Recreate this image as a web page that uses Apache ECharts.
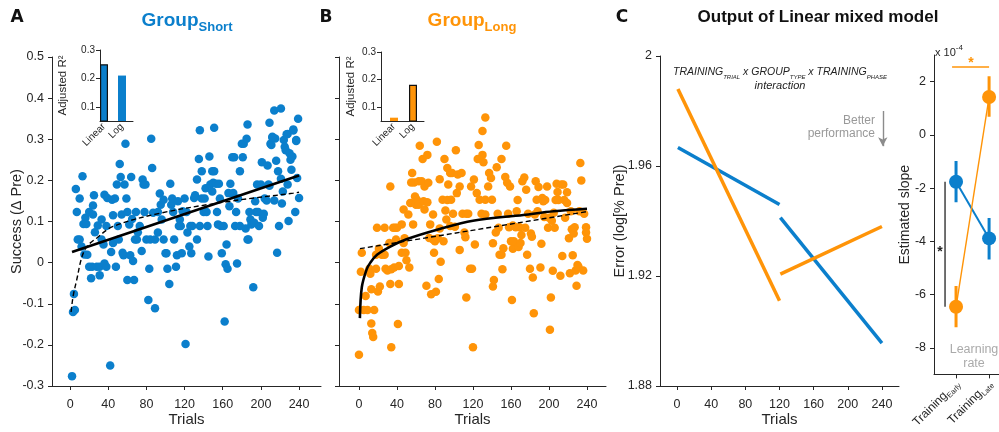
<!DOCTYPE html>
<html style="height:100%;">
<head>
	<meta charset="utf-8" />
	<title>Group short / long - linear mixed model</title>
	<script type="text/javascript" src="https://cdn.jsdelivr.net/npm/echarts@6/dist/echarts.min.js"></script>
</head>
<body style="margin:0;padding:0;height:100%;background:#fff;">
	<div id="chart" style="width:999px;height:432px;"></div>

	<script type="text/javascript">
		const FONT = '"Liberation Sans", Arial, sans-serif';
		const INK = '#262626';
		const BLUE = '#0b7fcc';
		const ORANGE = '#ff9408';

		// tick labels
		const trialTicks = [0, 40, 80, 120, 160, 200, 240];
		const successTicks = [-0.3, -0.2, -0.1, 0, 0.1, 0.2, 0.3, 0.4, 0.5];
		const errorTicks = [1.88, 1.92, 1.96, 2];
		const slopeTicks = [-8, -6, -4, -2, 0, 2];
		const r2Ticks = [0.1, 0.2, 0.3];

		// inset bars: adjusted R2 of each fit
		const fitModels = ['Linear', 'Log'];
		const r2Short = [0.25, 0.21];
		const r2Long = [0.062, 0.181];

		// Group short: [trial, success]
		const shortPoints = [
			[2, -0.276], [3, -0.12], [4, -0.076], [5, -0.115], [6, 0.179], [7, 0.123], [10, 0.156], [8, 0.056], [10, 0.056], [13, 0.21],
			[12, 0.039], [14, 0.094], [16, 0.109], [17, 0.094], [15, 0.02], [18, 0.019], [20, 0.123], [20, -0.01], [22, -0.038], [23, -0.01],
			[24, 0.139], [24, 0.117], [25, 0.164], [26, 0.074], [28, -0.01], [29, 0.09], [31, -0.031], [31, -0.01], [33, 0.105], [33, 0.056],
			[35, 0.044], [36, 0.165], [36, -0.002], [38, 0.089], [38, -0.01], [39, 0.157], [42, -0.25], [43, 0.026], [44, 0.153], [45, 0.115],
			[45, 0.048], [47, 0.156], [48, -0.01], [49, 0.19], [50, 0.089], [51, 0.056], [52, 0.24], [53, 0.208], [54, 0.117], [55, 0.024],
			[56, 0.018], [57, 0.19], [58, 0.289], [59, 0.156], [60, 0.123], [60, -0.042], [62, 0.093], [63, 0.018], [64, 0.208], [65, 0.106],
			[66, 0.004], [67, -0.042], [68, 0.056], [69, 0.123], [70, 0.056], [71, 0.074], [73, 0.089], [75, 0.028], [76, 0.202], [77, 0.19],
			[79, 0.19], [78, 0.123], [80, 0.056], [82, -0.091], [83, -0.015], [84, 0.056], [85, 0.301], [86, 0.23], [87, 0.121], [89, -0.111],
			[89, 0.056], [92, 0.123], [92, 0.073], [94, 0.168], [95, 0.141], [96, 0.105], [98, 0.153], [98, 0.056], [100, 0.023], [101, 0.023],
			[102, -0.015], [104, -0.052], [105, 0.192], [106, 0.141], [107, 0.156], [108, 0.123], [109, 0.056], [111, -0.01], [112, 0.018], [113, 0.149],
			[114, 0.089], [115, 0.105], [116, 0.089], [117, 0.023], [118, 0.125], [120, 0.156], [121, -0.198], [122, 0.123], [123, 0.073], [125, 0.039],
			[126, 0.089], [127, 0.023], [128, 0.089], [130, 0.157], [131, 0.164], [133, 0.056], [133, 0.202], [135, 0.252], [136, 0.089], [138, 0.222],
			[138, 0.156], [140, 0.123], [141, 0.156], [142, 0.181], [143, 0.123], [144, 0.089], [145, 0.015], [146, 0.258], [147, 0.19], [149, 0.222],
			[149, 0.173], [150, 0.194], [151, 0.222], [153, 0.192], [154, 0.123], [155, 0.093], [156, 0.192], [157, 0.156], [158, 0.089], [159, 0.023],
			[161, 0.089], [162, -0.143], [163, -0.004], [164, 0.044], [165, -0.015], [166, 0.169], [167, 0.137], [168, 0.192], [170, 0.256], [171, 0.169],
			[172, 0.256], [173, 0.089], [174, 0.123], [175, -0.002], [176, 0.156], [178, 0.089], [178, 0.222], [180, 0.289], [181, 0.256], [182, 0.289],
			[184, 0.083], [185, 0.301], [186, 0.056], [187, 0.056], [188, 0.123], [189, 0.105], [190, 0.093], [192, -0.06], [193, 0.097], [194, 0.149],
			[195, 0.123], [196, 0.19], [197, 0.123], [198, 0.089], [200, 0.19], [201, 0.244], [202, 0.109], [203, 0.119], [204, 0.156], [206, 0.151],
			[207, 0.236], [208, 0.19], [209, 0.187], [210, 0.289], [211, 0.286], [212, 0.306], [214, 0.151], [215, 0.302], [216, 0.248], [217, 0.024],
			[218, 0.222], [219, 0.089], [221, 0.204], [222, 0.144], [223, 0.173], [224, 0.298], [225, 0.282], [226, 0.273], [228, 0.313], [228, 0.19],
			[229, 0.101], [230, 0.266], [231, 0.25], [232, 0.226], [233, 0.258], [234, 0.321], [236, 0.123], [237, 0.298], [238, 0.206], [240, 0.157],
			[136, 0.322], [151, 0.328], [186, 0.336], [209, 0.34], [214, 0.37], [221, 0.375], [239, 0.35], [234, 0.324], [237, 0.296], [227, 0.312],
			[212, 0.304]
		];
		const shortLinearFit = [[2, 0.026], [240, 0.212]];
		const shortLogFit = [[1, -0.12], [2, -0.1], [3.5, -0.077], [7, -0.041], [12, 0.011], [17.5, 0.039], [28, 0.06], [45, 0.088],
			[94, 0.12], [164, 0.148], [234, 0.169], [240, 0.171]];

		// Group long: [trial, success]
		const longPoints = [
			[0, -0.224], [0, -0.115], [2, -0.022], [3, 0.024], [5, -0.115], [7, -0.081], [9, -0.115], [11, -0.015], [12, -0.027], [13, -0.065],
			[13, -0.148], [14, -0.171], [15, -0.181], [16, -0.115], [18, -0.015], [18, 0.019], [19, 0.085], [20, -0.07], [21, 0.034], [22, -0.058],
			[24, 0.019], [25, 0.02], [27, 0.085], [27, 0.019], [28, -0.015], [30, -0.019], [32, 0.048], [33, 0.185], [33, -0.052], [34, -0.016],
			[34, -0.206], [36, 0.085], [37, -0.012], [38, 0.085], [39, 0.056], [40, 0.085], [41, -0.149], [42, -0.052], [42, -0.008], [45, 0.093],
			[45, 0.024], [47, 0.129], [47, 0.048], [48, 0.059], [49, 0.024], [50, 0.006], [52, 0.117], [53, -0.012], [54, 0.145], [55, 0.195],
			[56, 0.218], [57, 0.093], [58, 0.195], [59, 0.161], [60, 0.141], [61, 0.153], [63, 0.198], [63, 0.141], [64, 0.284], [66, 0.198],
			[67, 0.252], [68, 0.149], [69, 0.185], [69, 0.129], [71, -0.056], [72, 0.262], [72, 0.147], [73, 0.194], [74, 0.06], [75, 0.093],
			[76, -0.077], [78, 0.056], [78, 0.117], [79, 0.024], [80, 0.052], [81, -0.071], [82, 0.294], [83, 0.059], [84, -0.04], [85, 0.203],
			[85, 0.083], [86, 0.002], [88, 0.153], [89, 0.052], [90, 0.252], [91, 0.127], [92, 0.105], [93, 0.152], [93, 0.23], [94, 0.19],
			[96, 0.218], [96, 0.089], [97, 0.153], [98, 0.218], [99, 0.119], [101, 0.087], [102, 0.273], [103, 0.169], [104, 0.214], [106, 0.185],
			[106, 0.031], [108, 0.218], [109, 0.119], [111, 0.073], [112, 0.062], [113, -0.085], [113, 0.119], [115, 0.119], [117, -0.015], [118, 0.185],
			[119, -0.015], [120, -0.206], [121, 0.202], [122, 0.044], [124, 0.169], [125, 0.252], [126, 0.286], [127, 0.153], [129, 0.119], [130, 0.32],
			[130, 0.262], [131, 0.244], [133, 0.117], [133, 0.153], [133, 0.353], [136, 0.185], [137, 0.218], [139, 0.206], [140, 0.153], [141, 0.047],
			[141, -0.058], [142, -0.042], [144, 0.073], [145, 0.232], [146, 0.119], [147, 0.085], [148, 0.019], [150, 0.019], [150, 0.252], [151, -0.016],
			[152, 0.035], [154, 0.208], [155, 0.284], [156, 0.194], [157, 0.119], [158, 0.086], [159, 0.185], [160, 0.052], [161, -0.091], [162, 0.034],
			[162, 0.09], [163, 0.052], [165, 0.086], [166, 0.125], [167, 0.152], [168, 0.038], [169, 0.086], [170, 0.048], [171, 0.067], [172, 0.198],
			[174, 0.207], [175, 0.085], [176, 0.177], [177, 0.019], [178, 0.119], [180, -0.015], [181, 0.071], [182, 0.063], [183, -0.036], [184, -0.123],
			[185, 0.117], [186, 0.198], [187, 0.153], [188, 0.125], [189, 0.184], [191, -0.012], [192, 0.046], [193, 0.157], [194, 0.149], [195, 0.111],
			[196, 0.152], [198, 0.185], [199, 0.085], [200, 0.109], [201, -0.163], [202, -0.085], [203, 0.102], [204, -0.02], [205, 0.121], [206, 0.085],
			[207, 0.152], [208, 0.192], [209, 0.172], [210, 0.152], [212, -0.032], [213, 0.19], [214, 0.016], [215, 0.19], [216, 0.152], [217, 0.109],
			[219, 0.145], [219, 0.171], [221, 0.059], [222, -0.026], [223, 0.125], [224, 0.081], [225, 0.018], [226, 0.071], [227, 0.086], [228, -0.019],
			[229, -0.056], [230, -0.006], [231, -0.01], [232, 0.125], [233, 0.242], [234, 0.2], [236, -0.019], [237, 0.119], [239, 0.086], [239, 0.073],
			[240, 0.058]
		];
		const longLogFit = [[1, -0.135], [3, -0.06], [8, -0.017], [12, 0.0], [19, 0.019], [33, 0.039], [50, 0.057], [85, 0.082],
			[120, 0.102], [173, 0.116], [205, 0.125], [240, 0.131]];
		const longLinearFit = [[1, 0.034], [240, 0.124]];

		// linear mixed model: error per phase segment
		const lmmShort = [[[1, 1.9667], [120, 1.946]], [[121, 1.9412], [240, 1.8956]]];
		const lmmLong = [[[1, 1.988], [120, 1.911]], [[121, 1.9207], [240, 1.938]]];

		// estimated slopes (x 10^-4) with error bars
		const phaseNames = ['Early', 'Late'];
		const slopeShort = [-1.76, -3.89];
		const slopeShortLow = [-2.53, -4.68];
		const slopeShortHigh = [-0.98, -3.12];
		const slopeLong = [-6.46, 1.42];
		const slopeLongLow = [-7.23, 0.68];
		const slopeLongHigh = [-5.68, 2.2];

		function valueAxis(gridIndex, min, max, ticks, showLabel) {
			return {
				type: 'value', gridIndex: gridIndex, min: min, max: max,
				splitLine: { show: false },
				axisLine: { show: true, onZero: false, lineStyle: { color: INK, width: 1 } },
				axisTick: { show: !!ticks, length: 4, customValues: ticks, lineStyle: { color: INK } },
				axisLabel: {
					show: !!ticks && showLabel !== false, customValues: ticks,
					color: INK, fontFamily: FONT, fontSize: 12.5, margin: 8
				}
			};
		}
		function named(axis, name, gap, size) {
			return Object.assign(axis, {
				name: name, nameLocation: 'middle', nameGap: gap, nameMoveOverlap: false,
				nameTextStyle: { color: INK, fontFamily: FONT, fontSize: size }
			});
		}

		const chart = echarts.init(document.getElementById('chart'));

		const grids = [
			{ left: 52, top: 57, width: 269, height: 330 },   // A
			{ left: 339, top: 57, width: 267, height: 330 },  // B
			{ left: 660, top: 56, width: 239, height: 330 },  // C
			{ left: 934, top: 55, width: 65, height: 332 },   // slopes
			{ left: 100, top: 50, width: 33, height: 71 },    // inset A
			{ left: 381, top: 52, width: 43, height: 69 }     // inset B
		];

		const xAxes = [
			named(valueAxis(0, -19, 263, trialTicks), 'Trials', 26, 15),
			named(valueAxis(1, -21, 260, trialTicks), 'Trials', 26, 15),
			named(valueAxis(2, -20, 260, trialTicks), 'Trials', 26, 15),
			valueAxis(3, 0.333, 2.3, [1, 2]),
			valueAxis(4, 0.778, 2.611, [1, 2]),
			valueAxis(5, 0.316, 2.579, [1, 2])
		];
		[0, 1, 2].forEach(function (i) { xAxes[i].axisLabel.margin = 12; });
		xAxes[3].axisLabel.rotate = 45;
		xAxes[3].axisLabel.margin = 6;
		xAxes[3].axisLabel.formatter = function (v) { return '{m|Training}{s|' + phaseNames[Math.round(v) - 1] + '}'; };
		xAxes[3].axisLabel.rich = {
			m: { fontSize: 12, color: INK, fontFamily: FONT, lineHeight: 16, verticalAlign: 'bottom' },
			s: { fontSize: 7.5, color: INK, fontFamily: FONT, lineHeight: 16, verticalAlign: 'bottom', padding: [0, 0, -2, 0] }
		};
		[4, 5].forEach(function (i) {
			xAxes[i].axisTick.show = false;
			xAxes[i].axisLabel.rotate = 45;
			xAxes[i].axisLabel.fontSize = 10;
			xAxes[i].axisLabel.margin = 4;
			xAxes[i].axisLabel.formatter = function (v) { return fitModels[Math.round(v) - 1]; };
		});

		const yAxes = [
			named(valueAxis(0, -0.3, 0.5, successTicks), 'Success (\u0394 Pre)', 28, 14.5),
			valueAxis(1, -0.3, 0.5, successTicks, false),
			named(valueAxis(2, 1.88, 2.0, errorTicks), 'Error (log[% Pre])', 33, 14.5),
			named(valueAxis(3, -9, 3, slopeTicks), 'Estimated slope', 22, 14),
			named(valueAxis(4, 0.05, 0.3, r2Ticks), 'Adjusted R\u00b2', 31, 11.5),
			named(valueAxis(5, 0.05, 0.3, r2Ticks), 'Adjusted R\u00b2', 24, 11.5)
		];
		[4, 5].forEach(function (i) {
			yAxes[i].axisLabel.fontSize = 10;
			yAxes[i].axisLabel.margin = 5;
		});

		function fitLine(xi, data, dashed, color) {
			return {
				type: 'line', xAxisIndex: xi, yAxisIndex: xi, data: data, smooth: data.length > 2 ? 0.35 : false,
				symbol: 'none', silent: true, z: 4,
				lineStyle: { color: color || '#000', width: dashed ? 1.4 : 2.6, type: dashed ? [5, 3] : 'solid' }
			};
		}
		function scatter(xi, data, color) {
			return {
				type: 'scatter', xAxisIndex: xi, yAxisIndex: xi, data: data, symbolSize: 8.5,
				itemStyle: { color: color, opacity: 1 }, z: 2
			};
		}
		function r2Bars(xi, values, color) {
			const best = values.indexOf(Math.max.apply(null, values));
			return {
				type: 'bar', xAxisIndex: xi, yAxisIndex: xi, barWidth: 8,
				data: values.map(function (v, i) {
					return {
						value: [i + 1, v],
						itemStyle: { color: color, borderColor: i === best ? '#111' : color, borderWidth: i === best ? 1.2 : 0 }
					};
				})
			};
		}

		const series = [
			scatter(0, shortPoints, BLUE),
			fitLine(0, shortLinearFit, false),
			fitLine(0, shortLogFit, true),
			scatter(1, longPoints, ORANGE),
			fitLine(1, longLogFit, false),
			fitLine(1, longLinearFit, true),
			r2Bars(4, r2Short, BLUE),
			r2Bars(5, r2Long, ORANGE)
		];

		// C: mixed model lines
		lmmShort.forEach(function (seg) {
			series.push({ type: 'line', xAxisIndex: 2, yAxisIndex: 2, data: seg, symbol: 'none', lineStyle: { color: BLUE, width: 3.5 } });
		});
		lmmLong.forEach(function (seg) {
			series.push({ type: 'line', xAxisIndex: 2, yAxisIndex: 2, data: seg, symbol: 'none', lineStyle: { color: ORANGE, width: 3.5 } });
		});
		// arrow "better performance"
		series.push({
			type: 'line', xAxisIndex: 2, yAxisIndex: 2, data: [], symbol: 'none',
			markLine: {
				silent: true, symbol: ['none', 'arrow'], symbolSize: [7, 9], label: { show: false },
				lineStyle: { color: '#8c8c8c', width: 1.4, type: 'solid' },
				data: [[{ coord: [241, 1.98] }, { coord: [241, 1.9672] }]]
			}
		});

		// slopes
		const phaseX = phaseNames.map(function (p, i) { return i + 1; });
		function slopeGroup(values, low, high, color, lineW) {
			series.push({
				type: 'line', xAxisIndex: 3, yAxisIndex: 3, symbol: 'none', z: 3,
				data: phaseX.map(function (x, i) { return [x, values[i]]; }),
				lineStyle: { color: color, width: lineW }
			});
			phaseX.forEach(function (x, i) {
				series.push({
					type: 'line', xAxisIndex: 3, yAxisIndex: 3, symbol: 'none', z: 4,
					data: [[x, low[i]], [x, high[i]]], lineStyle: { color: color, width: 3 }
				});
			});
			series.push({
				type: 'scatter', xAxisIndex: 3, yAxisIndex: 3, symbolSize: 14, z: 5,
				data: phaseX.map(function (x, i) { return [x, values[i]]; }),
				itemStyle: { color: color, opacity: 1 }
			});
		}
		slopeGroup(slopeShort, slopeShortLow, slopeShortHigh, BLUE, 2);
		slopeGroup(slopeLong, slopeLongLow, slopeLongHigh, ORANGE, 1.4);
		// significance marks
		series.push({
			type: 'line', xAxisIndex: 3, yAxisIndex: 3, symbol: 'none',
			data: [[0.667, slopeShort[0]], [0.667, slopeLong[0]]], lineStyle: { color: '#333', width: 1.4 }
		});
		series.push({
			type: 'line', xAxisIndex: 3, yAxisIndex: 3, symbol: 'none',
			data: [[0.88, 2.55], [2, 2.55]], lineStyle: { color: ORANGE, width: 1.6 }
		});

		function txt(x, y, text, style) {
			return {
				type: 'text', x: x, y: y, silent: true,
				style: Object.assign({ text: text, align: 'center', verticalAlign: 'middle', fontFamily: FONT, fontSize: 13, fill: INK }, style)
			};
		}
		const subRich = function (color, size, italic) {
			return {
				m: { fill: color, fontFamily: FONT, fontSize: size[0], fontWeight: size[2] || 'normal', fontStyle: italic ? 'italic' : 'normal', lineHeight: size[0] + 6, verticalAlign: 'bottom' },
				s: { fill: color, fontFamily: FONT, fontSize: size[1], fontWeight: size[2] || 'normal', fontStyle: italic ? 'italic' : 'normal', lineHeight: size[0] + 6, verticalAlign: 'bottom', padding: [0, 0, -3, 0] }
			};
		};

		const graphic = [
			txt(17, 18, 'A', { fontFamily: 'DejaVu Sans', fontWeight: 'bold', fontSize: 17, fill: '#111' }),
			txt(326, 18, 'B', { fontFamily: 'DejaVu Sans', fontWeight: 'bold', fontSize: 17, fill: '#111' }),
			txt(622, 18, 'C', { fontFamily: 'DejaVu Sans', fontWeight: 'bold', fontSize: 17, fill: '#111' }),
			txt(187, 18, '{m|Group}{s|Short}', { rich: subRich(BLUE, [19, 13, 'bold']) }),
			txt(472, 18, '{m|Group}{s|Long}', { rich: subRich(ORANGE, [19, 13, 'bold']) }),
			txt(818, 17, 'Output of Linear mixed model', { fontWeight: 'bold', fontSize: 17, fill: '#111' }),
			txt(780, 69, '{m|TRAINING}{s|TRIAL}{m| x GROUP}{s|TYPE}{m| x TRAINING}{s|PHASE}', { rich: subRich('#222', [10.5, 6], true) }),
			txt(780, 86, 'interaction', { fontStyle: 'italic', fontSize: 11, fill: '#222' }),
			txt(875, 121, 'Better', { align: 'right', fontSize: 12, fill: '#999' }),
			txt(875, 134, 'performance', { align: 'right', fontSize: 12, fill: '#999' }),
			txt(935, 51, '{m|x 10}{p|-4}', {
				align: 'left',
				rich: {
					m: { fill: INK, fontFamily: FONT, fontSize: 11, verticalAlign: 'bottom', lineHeight: 14 },
					p: { fill: INK, fontFamily: FONT, fontSize: 8, verticalAlign: 'top', lineHeight: 14, padding: [0, 0, 4, 0] }
				}
			}),
			txt(940, 252, '*', { fontSize: 14, fontWeight: 'bold', fill: '#222' }),
			txt(971, 63, '*', { fontSize: 14, fontWeight: 'bold', fill: ORANGE }),
			txt(974, 350, 'Learning', { fontSize: 12.5, fill: '#aaa' }),
			txt(974, 364, 'rate', { fontSize: 12.5, fill: '#aaa' })
		];

		chart.setOption({
			backgroundColor: '#fff',
			animation: false,
			grid: grids,
			xAxis: xAxes,
			yAxis: yAxes,
			series: series,
			graphic: graphic
		});
	</script>
</body>
</html>
